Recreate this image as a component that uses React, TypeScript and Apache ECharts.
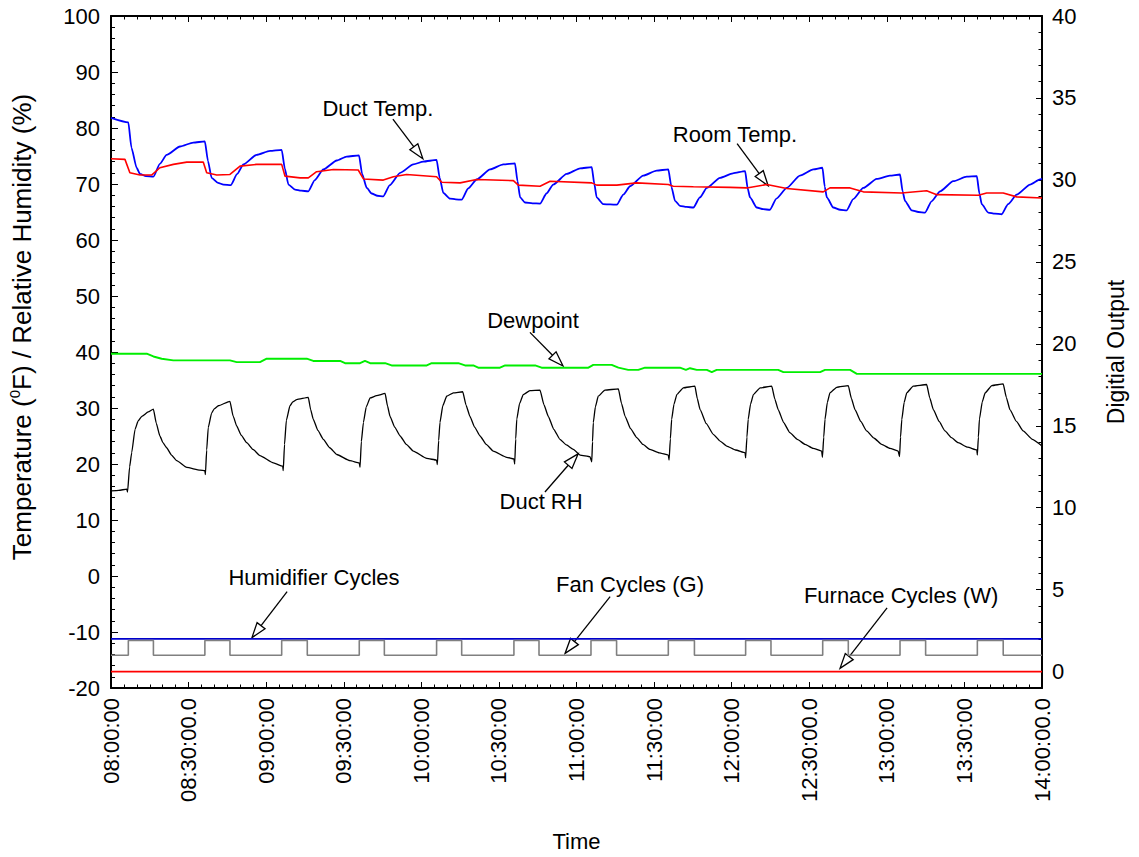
import React, { useEffect, useRef } from 'react';
import * as echarts from 'echarts';

const FONT = '"Liberation Sans", Arial, Helvetica, sans-serif';

// Time axis: minutes after 08:00, tick labels every 30 minutes
const timeTickLabels = [
  '08:00:00', '08:30:00.0', '09:00:00', '09:30:00', '10:00:00', '10:30:00', '11:00:00',
  '11:30:00', '12:00:00', '12:30:00.0', '13:00:00', '13:30:00', '14:00:00.0',
];
const digitalTicks = [0, 5, 10, 15, 20, 25, 30, 35, 40];
const digitalMinorTicks = [
  0, 1, 2, 3, 4, 5, 6, 7, 8, 9, 10, 11, 12, 13, 14, 15, 16, 17, 18, 19, 20,
  21, 22, 23, 24, 25, 26, 27, 28, 29, 30, 31, 32, 33, 34, 35, 36, 37, 38, 39, 40,
];

// [minutes after 08:00, °F]
const ductTemp: [number, number][] = [
  [0, 81.8], [6.7, 81.0], [7.9, 76.5], [9.9, 72.9], [11.2, 71.8], [13.5, 71.4], [16.4, 71.3],
  [18.9, 73.6], [21.5, 75.2], [26.7, 76.7], [31.8, 77.4], [36.3, 77.6],
  [37.5, 74.1], [38.9, 71.1], [41.4, 70.2], [43.5, 69.9], [46.3, 69.8],
  [48.8, 71.8], [51.2, 73.5], [56.3, 75.2], [61.5, 75.9], [66.0, 76.1],
  [67.2, 72.8], [68.6, 69.9], [71.2, 69.0], [73.5, 68.8], [76.3, 68.7],
  [78.8, 70.7], [82.1, 72.6], [87.3, 74.2], [91.1, 74.9], [95.9, 75.1],
  [97.1, 71.8], [98.9, 69.3], [100.8, 68.3], [103.0, 67.9], [105.3, 67.8],
  [107.8, 69.8], [111.8, 72.0], [116.9, 73.5], [120.8, 74.0], [125.9, 74.3],
  [127.1, 71.1], [128.5, 68.4], [131.1, 67.4], [133.3, 67.25], [135.6, 67.2],
  [138.1, 69.2], [141.4, 70.8], [146.6, 72.6], [151.7, 73.5], [156.2, 73.7],
  [157.2, 70.5], [158.2, 67.6], [160.1, 66.7], [163.0, 66.55], [165.9, 66.5],
  [168.4, 68.3], [171.0, 69.9], [176.2, 71.8], [181.4, 72.8], [185.9, 73.0],
  [186.9, 70.0], [187.8, 67.6], [190.3, 66.4], [193.0, 66.35], [195.6, 66.3],
  [198.1, 68.1], [200.7, 69.6], [205.8, 71.5], [211.0, 72.4], [215.5, 72.6],
  [216.7, 69.5], [218.1, 67.0], [220.0, 66.1], [222.6, 65.9], [225.2, 65.8],
  [227.7, 67.6], [230.4, 69.3], [235.5, 71.1], [240.5, 71.9], [245.2, 72.3],
  [246.2, 69.2], [247.1, 67.6], [249.7, 65.8], [252.2, 65.5], [254.8, 65.4],
  [257.3, 67.4], [261.3, 69.3], [266.4, 71.5], [271.6, 72.6], [275.1, 72.9],
  [276.0, 69.5], [276.8, 67.6], [279.3, 65.8], [281.9, 65.4], [284.5, 65.3],
  [287.0, 67.3], [290.9, 69.3], [296.1, 70.9], [301.2, 71.5], [305.1, 71.7],
  [306.1, 68.7], [307.0, 67.0], [309.6, 65.3], [312.2, 65.0], [314.8, 64.9],
  [317.3, 66.9], [320.6, 68.7], [325.7, 70.5], [330.9, 71.3], [334.8, 71.4],
  [335.8, 68.3], [336.7, 66.4], [339.2, 64.9], [341.8, 64.7], [344.4, 64.6],
  [346.9, 66.4], [350.2, 68.1], [355.4, 69.9], [359.2, 70.8], [360, 71.0],
];

const roomTemp: [number, number][] = [
  [0, 74.5], [5.4, 74.4], [7.3, 72.0], [11.2, 71.6], [15.7, 71.6], [18.9, 72.9], [24.1, 73.5], [29.3, 73.9], [35.7, 73.9],
  [37.0, 72.0], [40.9, 71.6], [46.0, 71.7], [49.9, 73.2], [56.3, 73.5], [66.0, 73.5], [67.3, 71.4], [73.1, 71.1],
  [76.3, 71.1], [79.5, 72.2], [86.0, 72.6], [95.6, 72.5], [97.6, 70.9], [105.3, 70.7], [109.2, 71.3], [114.3, 71.7],
  [125.9, 71.3], [127.9, 70.3], [135.0, 70.2], [141.4, 70.8], [155.6, 70.6], [157.5, 69.8], [165.9, 69.6],
  [169.8, 70.5], [185.9, 70.2], [187.8, 69.8], [195.6, 69.8], [203.3, 70.2], [215.5, 69.9], [217.4, 69.6],
  [225.2, 69.5], [239.4, 69.4], [245.8, 69.3], [253.6, 69.9], [261.3, 69.2], [275.4, 68.6], [278.0, 69.3],
  [285.8, 69.3], [290.9, 68.6], [305.7, 68.4], [315.4, 68.8], [319.3, 68.1], [335.4, 68.0], [338.6, 68.4],
  [345.0, 68.4], [350.2, 67.7], [360, 67.5],
];

const dewpoint: [number, number][] = [
  [0, 39.7], [13.8, 39.7], [16.4, 39.2], [19.6, 38.8], [24.1, 38.5], [46.0, 38.5], [48.6, 38.2], [57.6, 38.2],
  [60.2, 38.8], [75.7, 38.8], [78.2, 38.4], [88.6, 38.4], [90.5, 38.0], [96.3, 38.0], [98.2, 38.4], [100.2, 38.0],
  [106.0, 38.0], [108.5, 37.6], [122.1, 37.6], [124.0, 38.0], [134.3, 38.0], [136.9, 37.6], [140.1, 37.6],
  [142.0, 37.2], [150.4, 37.2], [152.4, 37.6], [164.0, 37.6], [166.5, 37.2], [184.6, 37.2], [186.5, 37.7],
  [193.6, 37.7], [196.2, 37.2], [200.0, 36.8], [203.9, 36.8], [206.5, 37.2], [220.0, 37.2], [222.3, 36.8],
  [223.9, 37.1], [226.5, 36.8], [230.4, 36.8], [232.3, 36.4], [234.2, 36.8], [258.0, 36.8], [260.0, 36.4],
  [274.2, 36.4], [276.1, 36.8], [285.8, 36.8], [288.4, 36.1], [360, 36.1],
];

// [minutes after 08:00, %]
const ductRH: [number, number][] = [
  [0, 15.2], [3.0, 15.3], [6.1, 15.5], [6.4, 15.0], [7.2, 19.5], [8.0, 22.0], [9.3, 26.2], [10.5, 27.7], [11.9, 28.5], [14.4, 29.3],
  [16.4, 29.8], [17.5, 27.3], [18.9, 25.0], [20.1, 23.8], [21.5, 22.9], [23.4, 21.6], [25.4, 20.6], [29.3, 19.4], [34.4, 18.9],
  [36.3, 18.8], [36.5, 18.1], [37.0, 22.5], [37.6, 26.5], [38.9, 29.1], [40.0, 29.9], [41.5, 30.4],
  [46.0, 31.2], [47.2, 28.6], [48.6, 26.8], [50.4, 25.1], [52.5, 23.8], [54.9, 22.6], [57.6, 21.5], [62.8, 20.2],
  [66.4, 19.6], [66.6, 18.8], [67.1, 23.5], [67.8, 27.8], [69.2, 30.4], [70.3, 31.1], [71.8, 31.5],
  [76.3, 31.9], [77.2, 29.7], [78.2, 28.0], [80.0, 26.0], [82.1, 24.4], [84.6, 22.9], [87.3, 21.7], [92.4, 20.6],
  [96.0, 20.2], [96.3, 19.4], [96.8, 24.0], [97.6, 27.4], [98.7, 30.2], [100.2, 31.8], [102.7, 32.2],
  [106.0, 32.6], [106.9, 30.4], [107.9, 28.5], [109.7, 26.6], [111.8, 25.0], [114.2, 23.5], [116.9, 22.3], [122.1, 21.0],
  [125.9, 20.7], [126.2, 19.9], [126.7, 24.2], [127.2, 27.4], [128.3, 30.4], [129.8, 32.1], [132.4, 32.7],
  [136.0, 32.9], [137.3, 30.5], [138.8, 28.5], [140.6, 26.6], [142.7, 25.0], [145.1, 23.5], [147.8, 22.3], [153.0, 21.2],
  [155.8, 20.9], [156.1, 20.0], [156.5, 24.5], [156.9, 28.0], [158.0, 30.8], [159.4, 32.4], [162.0, 33.1],
  [165.9, 33.2], [167.4, 30.6], [169.1, 28.5], [171.2, 26.2], [173.6, 24.4], [176.1, 23.4], [178.8, 22.6], [181.4, 21.6],
  [185.2, 21.3], [185.9, 20.4], [186.2, 24.0], [186.5, 27.4], [187.3, 30.2], [188.4, 32.1], [191.0, 33.2],
  [196.2, 33.4], [197.4, 30.8], [198.8, 28.5], [200.9, 26.3], [203.3, 24.7], [205.7, 23.5], [208.4, 22.6], [212.0, 22.0],
  [215.5, 21.6], [215.8, 20.7], [216.3, 24.5], [216.8, 28.0], [217.7, 30.7], [218.8, 32.4], [221.3, 33.6],
  [225.8, 33.9], [226.7, 31.7], [227.8, 29.7], [230.2, 27.2], [232.9, 25.3], [235.5, 24.1], [238.1, 23.2], [241.5, 22.5],
  [245.2, 22.0], [245.4, 21.1], [245.9, 24.8], [246.4, 28.0], [247.3, 30.7], [248.4, 32.4], [251.0, 33.6],
  [255.5, 33.9], [256.7, 31.6], [258.0, 29.7], [260.1, 27.4], [262.5, 25.6], [265.4, 24.4], [268.4, 23.5], [271.5, 22.8],
  [274.8, 22.3], [275.1, 21.2], [275.6, 24.8], [276.1, 28.0], [277.0, 31.0], [278.0, 32.7], [280.6, 33.7],
  [285.1, 34.0], [286.3, 31.7], [287.7, 29.7], [289.9, 27.6], [292.2, 25.9], [295.1, 24.6], [298.0, 23.5], [301.2, 22.8],
  [304.4, 22.3], [304.9, 21.3], [305.3, 24.8], [305.8, 28.0], [306.7, 31.0], [307.7, 32.7], [310.2, 33.9],
  [315.4, 34.2], [316.6, 31.8], [318.0, 29.7], [320.2, 27.6], [322.5, 25.9], [325.0, 24.7], [327.6, 23.8], [331.2, 23.0],
  [334.8, 22.5], [335.0, 21.6], [335.4, 24.8], [335.8, 28.0], [336.9, 31.1], [338.0, 32.7], [340.6, 34.0],
  [345.0, 34.3], [346.2, 31.9], [347.6, 29.7], [350.1, 27.6], [352.7, 25.9], [356.3, 24.4], [360, 23.2],
];

// Digital outputs: [minutes after 08:00, state level]
const humidifierCycles: [number, number][] = [[0, 2], [360, 2]];
const furnaceCycles: [number, number][] = [[0, 0], [360, 0]];
const fanCycles: [number, number][] = [
  [0, 1], [6.7, 1.9], [16.4, 1], [36.3, 1.9], [46.0, 1], [66.0, 1.9], [75.9, 1], [96.0, 1.9], [105.7, 1],
  [125.9, 1.9], [135.6, 1], [155.8, 1.9], [165.5, 1], [185.6, 1.9], [195.5, 1], [215.5, 1.9], [225.6, 1],
  [245.4, 1.9], [255.2, 1], [275.2, 1.9], [285.1, 1], [305.1, 1.9], [315.0, 1], [335.0, 1.9], [345.0, 1],
  [360, 1],
];

// Callouts in left-axis coordinates: label centre, arrow start, arrow tip
type Callout = { text: string; label: [number, number]; from: [number, number]; to: [number, number] };
const callouts: Callout[] = [
  { text: 'Duct Temp.', label: [103.2, 83.5], from: [109.0, 81.6], to: [120.6, 74.5] },
  { text: 'Room Temp.', label: [241.3, 78.9], from: [242.1, 77.2], to: [254.1, 69.7] },
  { text: 'Dewpoint', label: [163.2, 45.7], from: [162.0, 43.5], to: [174.8, 37.5] },
  { text: 'Duct RH', label: [166.3, 13.3], from: [167.8, 15.0], to: [180.6, 21.8] },
  { text: 'Humidifier Cycles', label: [78.5, -0.35], from: [68.1, -2.8], to: [54.5, -11.0] },
  { text: 'Fan Cycles (G)', label: [200.7, -1.6], from: [193.0, -3.7], to: [175.6, -13.8] },
  { text: 'Furnace Cycles (W)', label: [305.5, -3.4], from: [300.1, -5.7], to: [281.9, -16.5] },
];

const FS = 22;
const lineSeries = (name: string, data: [number, number][], color: string, width: number, yAxisIndex = 0, extra = {}) => ({
  name,
  type: 'line',
  data,
  yAxisIndex,
  showSymbol: false,
  symbol: 'none',
  lineStyle: { color, width },
  itemStyle: { color },
  emphasis: { disabled: true },
  ...extra,
});

const frameLine = { show: true, lineStyle: { color: '#000', width: 2 } };

export default function App() {
  const ref = useRef<HTMLDivElement>(null);

  useEffect(() => {
    const chart = echarts.init(ref.current!, null, { renderer: 'svg' });
    chart.setOption({
      animation: false,
      backgroundColor: '#fff',
      textStyle: { fontFamily: FONT },
      grid: { left: 111, right: 97, top: 16, bottom: 163, containLabel: false },
      xAxis: [
        {
          type: 'value', min: 0, max: 360, interval: 30, position: 'bottom',
          axisLine: { ...frameLine, onZero: false },
          axisTick: { show: true, inside: true, length: 6, lineStyle: { color: '#000', width: 1 } },
          minorTick: { show: true, splitNumber: 6, length: 3.5, lineStyle: { color: '#000', width: 1 } },
          splitLine: { show: false },
          axisLabel: {
            rotate: 90, margin: 10, fontSize: FS, color: '#000', fontFamily: FONT,
            formatter: (v: number) => timeTickLabels[Math.round(v / 30)] ?? '',
          },
          name: 'Time', nameLocation: 'middle', nameGap: 142,
          nameTextStyle: { fontSize: FS, color: '#000', fontFamily: FONT },
        },
        {
          type: 'value', min: 0, max: 360, interval: 30, position: 'top',
          axisLine: { ...frameLine, onZero: false },
          axisTick: { show: true, inside: true, length: 6, lineStyle: { color: '#000', width: 1 } },
          minorTick: { show: true, splitNumber: 6, length: 3.5, lineStyle: { color: '#000', width: 1 } },
          splitLine: { show: false },
          axisLabel: { show: false },
        },
      ],
      yAxis: [
        {
          type: 'value', min: -20, max: 100, interval: 10, position: 'left',
          axisLine: { ...frameLine, onZero: false },
          axisTick: { show: true, inside: true, length: 7, lineStyle: { color: '#000', width: 1 } },
          minorTick: { show: true, splitNumber: 5, length: 4, lineStyle: { color: '#000', width: 1 } },
          splitLine: { show: false },
          axisLabel: { margin: 11, fontSize: FS, color: '#000', fontFamily: FONT },
        },
        {
          type: 'value', min: -1, max: 40, position: 'right',
          axisLine: { ...frameLine, onZero: false },
          axisTick: { show: true, inside: true, length: 6, customValues: digitalTicks, lineStyle: { color: '#000', width: 1 } },
          splitLine: { show: false },
          axisLabel: { margin: 10, fontSize: FS, color: '#000', fontFamily: FONT, customValues: digitalTicks },
          name: 'Digitial Output', nameLocation: 'middle', nameRotate: 90, nameGap: 62,
          nameTextStyle: { fontSize: 23, color: '#000', fontFamily: FONT },
        },
        {
          type: 'value', min: -1, max: 40, position: 'right',
          axisLine: { show: false, onZero: false },
          axisTick: { show: true, inside: true, length: 3.5, customValues: digitalMinorTicks, lineStyle: { color: '#000', width: 1 } },
          splitLine: { show: false },
          axisLabel: { show: false },
        },
      ],
      series: [
        lineSeries('Duct Temp.', ductTemp, '#0000ff', 1.8, 0, { smooth: 0.2, smoothMonotone: 'x' }),
        lineSeries('Room Temp.', roomTemp, '#ff0000', 1.6, 0),
        lineSeries('Dewpoint', dewpoint, '#00ee00', 1.9, 0),
        lineSeries('Duct RH', ductRH, '#000000', 1.3, 0, { smooth: 0.15, smoothMonotone: 'x' }),
        lineSeries('Humidifier Cycles', humidifierCycles, '#0000cc', 1.6, 1),
        lineSeries('Fan Cycles (G)', fanCycles, '#808080', 1.6, 1, { step: 'end' }),
        lineSeries('Furnace Cycles (W)', furnaceCycles, '#ff0000', 1.6, 1),
      ],
    });

    const px = (p: [number, number]) => chart.convertToPixel({ xAxisIndex: 0, yAxisIndex: 0 }, p) as number[];
    const graphic: any[] = [];

    // left axis title with a superscript degree zero
    const [, topY] = px([0, 100]);
    const [, botY] = px([0, -20]);
    graphic.push({
      type: 'text', x: 22, y: (topY + botY) / 2 - 25, rotation: Math.PI / 2, silent: true,
      style: {
        text: '{t|Temperature (}{s|0}{t|F) / Relative Humidity (%)}',
        align: 'center', verticalAlign: 'middle', textAlign: 'center', textVerticalAlign: 'middle',
        fill: '#000', fontFamily: FONT, fontSize: 26,
        rich: {
          t: { fontSize: 26, fontFamily: FONT, fill: '#000', color: '#000', lineHeight: 30 },
          s: { fontSize: 15, fontFamily: FONT, fill: '#000', color: '#000', verticalAlign: 'top', lineHeight: 30 },
        },
      },
    });

    callouts.forEach((c) => {
      const [lx, ly] = px(c.label);
      const [fx, fy] = px(c.from);
      const [tx, ty] = px(c.to);
      const dx = tx - fx, dy = ty - fy;
      const len = Math.hypot(dx, dy);
      const ux = dx / len, uy = dy / len;
      const head = 15, half = 5;
      const bx = tx - ux * head, by = ty - uy * head;
      graphic.push({
        type: 'text', x: lx, y: ly, silent: true,
        style: {
          text: c.text, fill: '#000', fontSize: FS, fontFamily: FONT,
          align: 'center', verticalAlign: 'middle', textAlign: 'center', textVerticalAlign: 'middle',
        },
      });
      graphic.push({
        type: 'line', silent: true,
        shape: { x1: fx, y1: fy, x2: bx, y2: by },
        style: { stroke: '#000', lineWidth: 1.3 },
      });
      graphic.push({
        type: 'polygon', silent: true,
        shape: { points: [[tx, ty], [bx - uy * half, by + ux * half], [bx + uy * half, by - ux * half]] },
        style: { fill: '#fff', stroke: '#000', lineWidth: 1.3 },
      });
    });
    chart.setOption({ graphic });

    return () => chart.dispose();
  }, []);

  return (
    <div
      ref={ref}
      style={{ position: 'fixed', left: 0, top: 0, width: 1139, height: 857, background: '#fff' }}
    />
  );
}
